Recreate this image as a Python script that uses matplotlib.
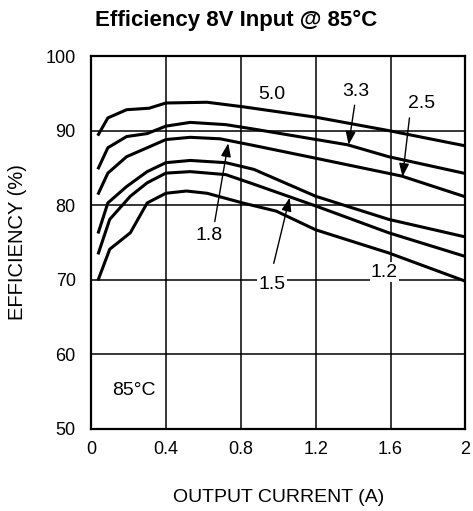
import matplotlib.pyplot as plt

plt.rcParams['font.family'] = ['Liberation Sans', 'DejaVu Sans']

# output current (A) and efficiency (%) per output voltage
i_50 = [0.04, 0.09, 0.19, 0.31, 0.40, 0.62, 0.81, 1.20, 1.59, 1.99]
e_50 = [89.5, 91.7, 92.8, 93.0, 93.7, 93.8, 93.2, 91.8, 90.0, 88.0]

i_33 = [0.04, 0.09, 0.19, 0.30, 0.40, 0.53, 0.72, 0.87, 1.37, 1.59, 1.99]
e_33 = [85.0, 87.7, 89.2, 89.6, 90.6, 91.1, 90.8, 90.2, 88.1, 86.5, 84.3]

i_25 = [0.04, 0.09, 0.19, 0.30, 0.40, 0.53, 0.69, 0.87, 1.20, 1.66, 1.99]
e_25 = [81.6, 84.3, 86.5, 87.7, 88.8, 89.1, 88.9, 88.0, 86.3, 83.9, 81.2]

i_18 = [0.04, 0.09, 0.19, 0.30, 0.40, 0.53, 0.72, 0.87, 1.20, 1.59, 1.99]
e_18 = [76.4, 80.3, 82.5, 84.5, 85.7, 86.0, 85.7, 84.8, 81.2, 78.1, 75.8]

i_15 = [0.04, 0.10, 0.21, 0.30, 0.40, 0.53, 0.72, 0.86, 1.20, 1.59, 1.99]
e_15 = [73.6, 78.1, 81.2, 83.0, 84.3, 84.5, 84.1, 82.9, 79.9, 76.3, 73.2]

i_12 = [0.04, 0.10, 0.21, 0.30, 0.40, 0.51, 0.62, 0.81, 0.99, 1.20, 1.59, 1.99]
e_12 = [70.1, 74.1, 76.3, 80.3, 81.6, 81.9, 81.6, 80.3, 79.2, 76.7, 73.6, 69.9]

x_ticks = [0, 0.4, 0.8, 1.2, 1.6, 2]
x_labels = ['0', '0.4', '0.8', '1.2', '1.6', '2']
y_ticks = [50, 60, 70, 80, 90, 100]

fig = plt.figure(figsize=(4.73, 5.11), dpi=100)
ax = fig.add_axes([0.1924, 0.1605, 0.7916, 0.7299])

for xs, ys in [(i_50, e_50), (i_33, e_33), (i_25, e_25),
               (i_18, e_18), (i_15, e_15), (i_12, e_12)]:
    ax.plot(xs, ys, color='black', lw=2.2, solid_joinstyle='round', zorder=3)

ax.set_xlim(0, 2)
ax.set_ylim(50, 100)
ax.set_xticks(x_ticks)
ax.set_xticklabels(x_labels)
ax.set_yticks(y_ticks)
ax.grid(True, color='black', lw=1.1)
ax.tick_params(length=0, labelsize=13, pad=9)
ax.tick_params(axis='y', pad=11)
for s in ax.spines.values():
    s.set_linewidth(1.6)

ax.set_xlabel('OUTPUT CURRENT (A)', fontsize=14, labelpad=22)
ax.set_ylabel('EFFICIENCY (%)', fontsize=14.5, labelpad=13)
fig.text(0.5, 1 - 20.5 / 511, 'Efficiency 8V Input @ 85°C', ha='center', va='center',
         fontsize=16, fontweight='bold')

lbl = dict(fontsize=14, ha='center', va='center', zorder=4)
box = dict(facecolor='white', edgecolor='none', pad=1)
ax.text(0.965, 94.8, '5.0', **lbl)
ax.text(1.413, 95.2, '3.3', **lbl)
ax.text(1.765, 93.7, '2.5', **lbl)
ax.text(0.63, 75.9, '1.8', **lbl)
ax.text(0.965, 69.4, '1.5', bbox=box, **lbl)
ax.text(1.568, 71.0, '1.2', bbox=box, **lbl)
ax.text(0.23, 55.1, '85°C', **lbl)

arr = dict(arrowstyle='-|>,head_length=0.8,head_width=0.3', color='black', lw=1.0,
           shrinkA=0, shrinkB=0)
for tail, tip in [((1.408, 93.4), (1.376, 88.1)),
                  ((1.701, 91.7), (1.664, 83.8)),
                  ((0.661, 77.8), (0.733, 88.3)),
                  ((0.976, 72.2), (1.061, 81.0))]:
    ax.annotate('', xy=tip, xytext=tail, arrowprops=arr, zorder=5)

fig.savefig('out.png', dpi=100)
